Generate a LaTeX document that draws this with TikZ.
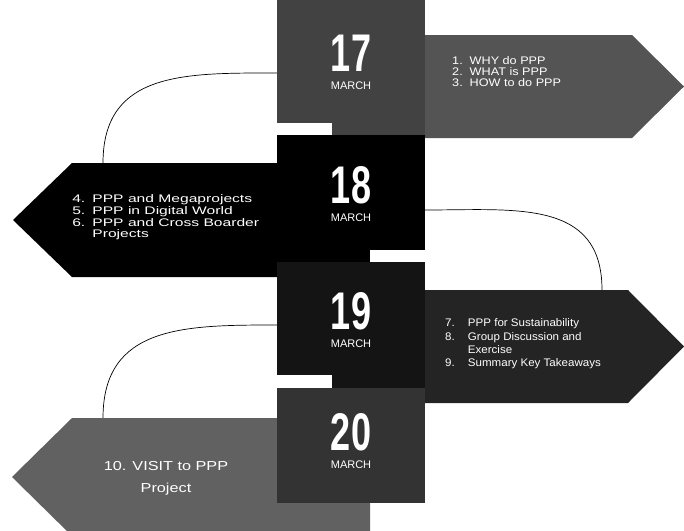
\documentclass[tikz,border=0pt]{standalone}
\usepackage{fontspec}
\setmainfont{Liberation Sans}
\usepackage{graphicx}
\usepackage{xcolor}
\usepackage{tikz}
\usetikzlibrary{positioning,backgrounds}
\definecolor{charcoalgrey}{rgb}{0.26, 0.26, 0.26}
\definecolor{davysgrey}{rgb}{0.33, 0.33, 0.33}
\definecolor{granitegray}{rgb}{0.38, 0.38, 0.38}
\definecolor{jet}{rgb}{0.2, 0.2, 0.2}
\definecolor{raisinblack}{rgb}{0.14, 0.14, 0.14}
\definecolor{eerieblack}{rgb}{0.08, 0.08, 0.08}
\newcommand{\jour}[1]{\begin{tabular}{@{}c@{}}\scalebox{0.68}[1]{\fontsize{53}{53}\selectfont\bfseries #1}\\[5pt]MARCH\\[6pt]\end{tabular}}

\begin{document}
\begin{tikzpicture}[x=1pt,y=-1pt]
  \tikzset{
    node distance=0pt,
    carre/.style={
      rectangle,inner sep=0pt,outer sep=0pt,minimum width=148pt,
      text=white,font=\fontsize{11}{13}\selectfont,
    },
    panneau/.style={fill=black},
    texte/.style={text=white,inner sep=0pt,anchor=west},
    lien/.style={line cap=round,line width=0.7pt,draw=black,looseness=1.2},
    onglet/.style={fill=white},
  }
  \useasboundingbox (0,0) rectangle (684,530);

  % panneaux
  \fill[panneau,fill=davysgrey] (425,35) -- (632,35) -- (684,86.5) -- (632,138) -- (425,138) -- cycle;
  \fill[panneau] (277,163) -- (72,163) -- (13,220) -- (72,277) -- (277,277) -- cycle;
  \fill[panneau,fill=raisinblack] (425,290) -- (628,290) -- (684,346.5) -- (628,403) -- (425,403) -- cycle;
  \fill[panneau,fill=granitegray] (370,418) -- (72,418) -- (12,477) -- (72,536) -- (370,536) -- cycle;

  % jours
  \node[carre, fill=charcoalgrey, minimum height=135pt] (a) at (351,67.5) {\jour{17}};
  \node[carre, fill=black, minimum height=127pt, below=of a] (b) {\jour{18}};
  \node[carre, fill=eerieblack, minimum height=126pt, below=of b] (c) {\jour{19}};
  \node[carre, fill=jet, minimum height=115pt, below=of c] (d) {\jour{20}};

  % onglets
  \fill[onglet] (277,123) rectangle (332,135);
  \fill[onglet] (370,250) rectangle (425,262);
  \fill[onglet] (277,375) rectangle (332,388);

  % textes
  \node[texte, font=\fontsize{11}{10}\selectfont, xscale=1.15] (e) at (452,73)
    {\begin{tabular}{@{}l@{\hspace{6pt}}l@{}}1. & WHY do PPP\\ 2. & WHAT is PPP\\ 3. & HOW to do PPP\end{tabular}};
  \node[texte, font=\fontsize{11}{11.7}\selectfont, xscale=1.42] (f) at (72,218)
    {\begin{tabular}{@{}l@{\hspace{5pt}}l@{}}4. & PPP and Megaprojects\\ 5. & PPP in Digital World\\ 6. & PPP and Cross Boarder\\ & Projects\end{tabular}};
  \node[texte, font=\fontsize{11}{13.3}\selectfont, xscale=1.05] (g) at (445,344)
    {\begin{tabular}{@{}l@{\hspace{12.5pt}}l@{}}7. & PPP for Sustainability\\ 8. & Group Discussion and\\ & Exercise\\ 9. & Summary Key Takeaways\end{tabular}};
  \node[texte, anchor=center, font=\fontsize{13}{22}\selectfont, xscale=1.25] (h) at (166,476.6)
    {\begin{tabular}{@{}c@{}}10. VISIT to PPP\\ Project\end{tabular}};

  \coordinate (f haut) at (103,163);
  \coordinate (g haut) at (602,290);
  \coordinate (h haut) at (103,418);

  \begin{scope}[on background layer]
    \draw[lien] ([yshift=-5.5pt]a.west) to[out=180,in=90] (f haut);
    \draw[lien] ([yshift=-11.5pt]b.east) to[out=0,in=90] (g haut);
    \draw[lien] (c.west) to[out=180,in=90] (h haut);
  \end{scope}
\end{tikzpicture}
\end{document}
